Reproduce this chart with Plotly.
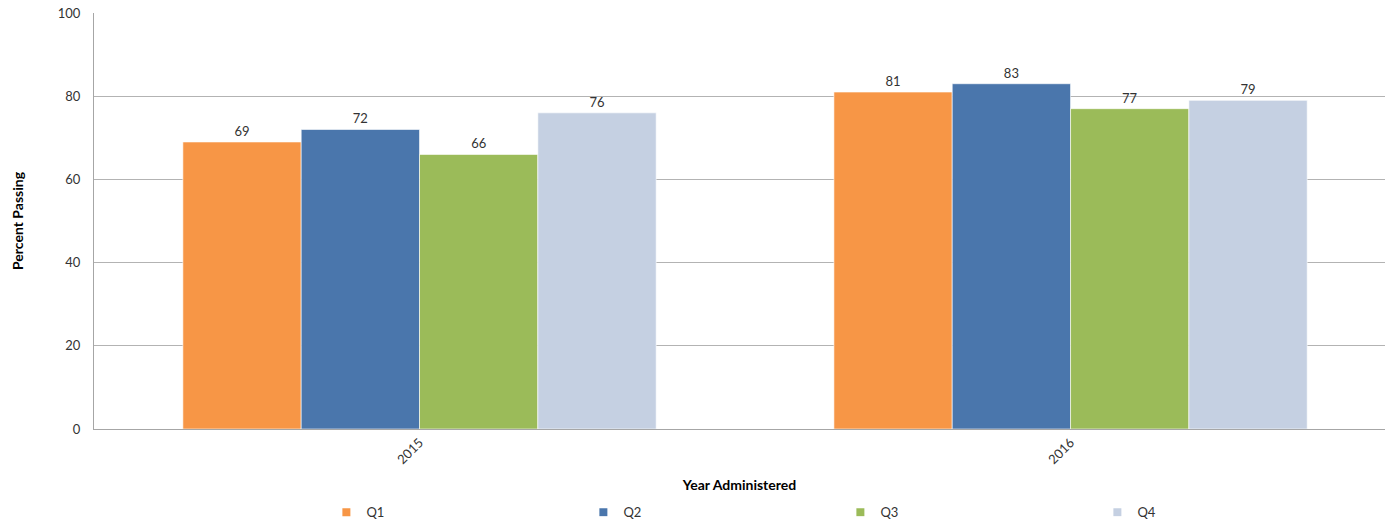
import plotly.graph_objects as go

years = ["2015", "2016"]
series_names = ["Q1", "Q2", "Q3", "Q4"]
q1 = [69, 81]
q2 = [72, 83]
q3 = [66, 77]
q4 = [76, 79]
colors = ["#F79646", "#4A76AC", "#9BBB59", "#C5D0E2"]

fig = go.Figure()
for name, vals, col in zip(series_names, [q1, q2, q3, q4], colors):
    fig.add_trace(go.Bar(
        x=years, y=vals, name=name,
        marker=dict(color=col, line=dict(color="rgba(255,255,255,0.6)", width=1)),
        text=[str(v) for v in vals], textposition="outside",
        textfont=dict(family="Lato", size=13, color="#333333"),
        cliponaxis=False, showlegend=False,
    ))
    fig.add_trace(go.Scatter(
        x=[None], y=[None], mode="markers", name=name,
        marker=dict(symbol="square", size=8, color=col),
    ))

fig.update_layout(
    width=1385, height=522,
    margin=dict(l=94, r=0, t=13, b=93, autoexpand=False),
    paper_bgcolor="white", plot_bgcolor="white",
    barmode="group", bargap=0.273, bargroupgap=0,
    font=dict(family="Lato", size=13, color="#333333"),
    legend=dict(orientation="h", x=0.18, xanchor="left", y=-0.2, yanchor="middle",
                entrywidth=212, entrywidthmode="pixels",
                font=dict(family="Lato", size=13, color="#333333")),
    xaxis=dict(
        type="category", range=[-0.5, 1.483], tickangle=-45, automargin=False,
        showgrid=False, showline=True, linecolor="#A6A6A6", linewidth=1,
        ticks="", tickfont=dict(family="Lato", size=13, color="#333333"),
        title=dict(text="<b>Year Administered</b>", standoff=14,
                   font=dict(family="Lato", size=14, color="#000000")),
    ),
    yaxis=dict(
        range=[0, 100], tickvals=[0, 20, 40, 60, 80, 100], automargin=False,
        showgrid=True, gridcolor="#B3B3B3", gridwidth=1,
        showline=True, linecolor="#A6A6A6", linewidth=1,
        zeroline=False, ticks="", ticklabelstandoff=10,
        tickfont=dict(family="Lato", size=13, color="#333333"),
        title=dict(text="<b>Percent Passing</b>", standoff=30,
                   font=dict(family="Lato", size=14, color="#000000")),
    ),
)

fig.write_html(
    "out.html",
    config={"responsive": False, "displayModeBar": False},
    post_script="document.body.style.margin='0';document.body.style.overflow='hidden';",
)
